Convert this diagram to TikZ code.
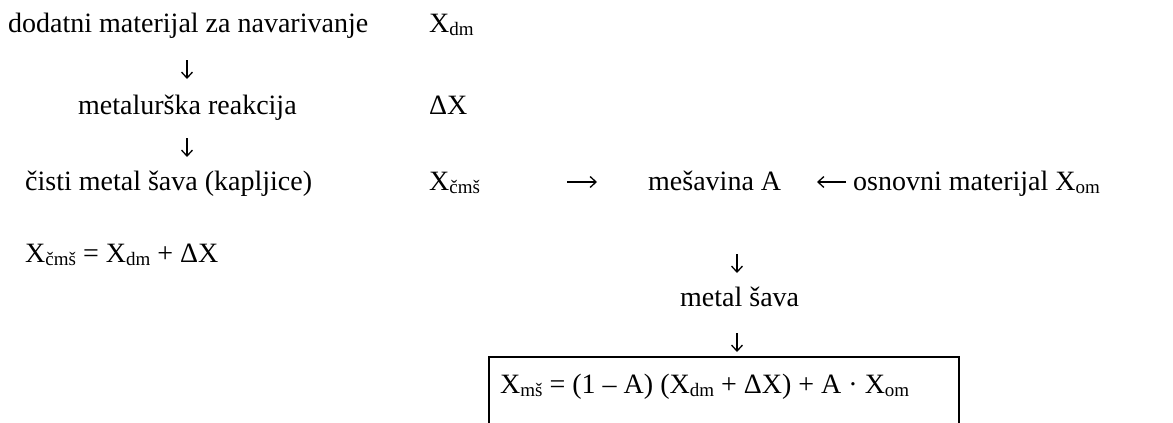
\documentclass[tikz,border=0pt]{standalone}
\usepackage{fontspec}
\setmainfont{Liberation Serif}
\usetikzlibrary{arrows.meta}
\newcommand{\sbx}[1]{\raisebox{-3pt}{\fontsize{19}{20}\selectfont #1}}
\begin{document}
\begin{tikzpicture}[x=1pt,y=-1pt,
  txt/.style={anchor=base west, inner sep=0pt, font=\fontsize{28}{33}\selectfont},
  arr/.style={line width=1.3pt, -{Straight Barb[length=6pt,width=11pt,line width=1.3pt]}},
  boxline/.style={line width=1.4pt}]
\useasboundingbox (0,0) rectangle (1173,423);
% left column
\node[txt] (l1) at (8,32) {dodatni materijal za navarivanje};
\node[txt] (xdm) at (429,32) {X\sbx{dm}};
\node[txt] (l2) at (78,114) {metalurška reakcija};
\node[txt] (dx) at (429,114) {ΔX};
\node[txt] (l3) at (25,190) {čisti metal šava (kapljice)};
\node[txt] (xcms) at (429,190) {X\sbx{čmš}};
\node[txt] (mes) at (648,190) {mešavina A};
\node[txt] (osn) at (853,190) {osnovni materijal X\sbx{om}};
\node[txt] (eq1) at (25,262) {X\sbx{čmš} = X\sbx{dm} + ΔX};
\node[txt] (ms) at (680,306) {metal šava};
\node[txt] (eq2) at (500,393) {X\sbx{mš} = (1 – A) (X\sbx{dm} + ΔX) + A · X\sbx{om}};
% arrow end points
\coordinate (a1s) at (187,60);
\coordinate (a1e) at (187,79);
\coordinate (a2s) at (187,138);
\coordinate (a2e) at (187,157);
\coordinate (hs) at (567,182);
\coordinate (he) at (597,182);
\coordinate (gs) at (846,182);
\coordinate (ge) at (817,182);
\coordinate (a3s) at (737,254);
\coordinate (a3e) at (737,273);
\coordinate (a4s) at (737,333);
\coordinate (a4e) at (737,352);
\draw[arr] (a1s) -- (a1e);
\draw[arr] (a2s) -- (a2e);
\draw[arr] (hs) -- (he);
\draw[arr] (gs) -- (ge);
\draw[arr] (a3s) -- (a3e);
\draw[arr] (a4s) -- (a4e);
% box (open at the bottom edge of the picture)
\coordinate (bl) at (489,430);
\coordinate (br) at (959,430);
\draw[boxline] (bl) |- (959,357) -- (br);
\end{tikzpicture}
\end{document}
